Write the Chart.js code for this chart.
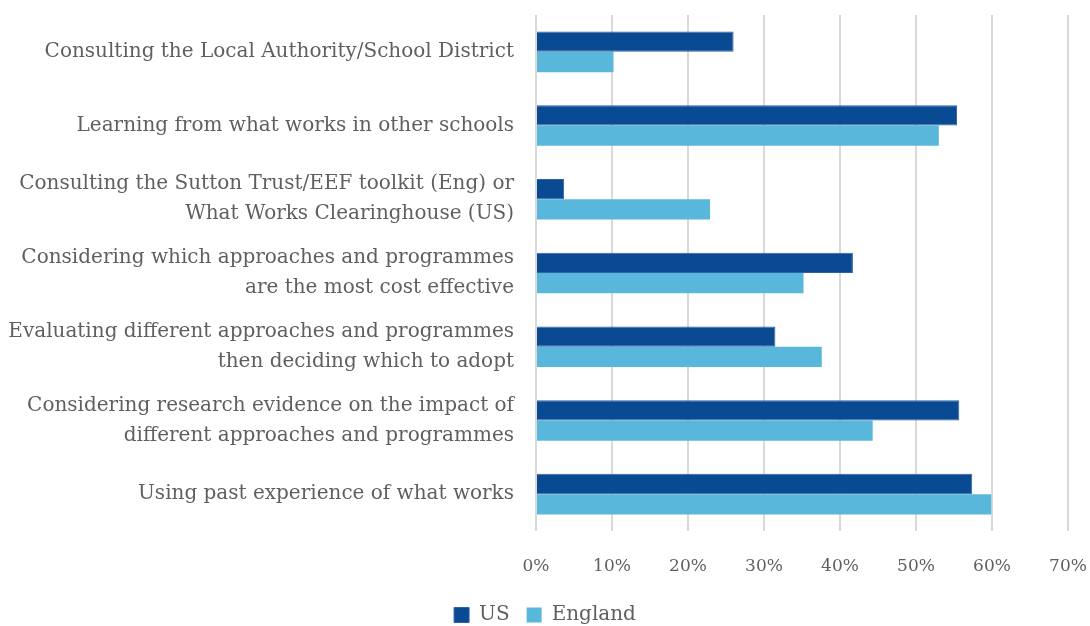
<!DOCTYPE html>
<html>
<head>
<meta charset="utf-8">
<script src="https://cdn.jsdelivr.net/npm/chart.js@4/dist/chart.umd.min.js"></script>
<style>
  html, body { margin: 0; padding: 0; background: #ffffff; }
  #wrap { width: 1090px; height: 626px; position: relative; }
</style>
</head>
<body>
<div id="wrap"><canvas id="c" width="1090" height="626"></canvas></div>
<script>
// Approaches used when deciding which programmes to adopt
const categories = [
  ["Consulting the Local Authority/School District"],
  ["Learning from what works in other schools"],
  ["Consulting the Sutton Trust/EEF toolkit (Eng) or", "What Works Clearinghouse (US)"],
  ["Considering which approaches and programmes", "are the most cost effective"],
  ["Evaluating different approaches and programmes", "then deciding which to adopt"],
  ["Considering research evidence on the impact of", "different approaches and programmes"],
  ["Using past experience of what works"]
];
const usValues = [26, 55.4, 3.7, 41.7, 31.5, 55.7, 57.4];
const englandValues = [10.2, 53.0, 22.9, 35.2, 37.6, 44.3, 59.9];
const tickValues = [0, 10, 20, 30, 40, 50, 60, 70];

const FONT = "'DejaVu Serif', serif";
const TEXT = '#5f5f5f';

new Chart(document.getElementById('c'), {
  type: 'bar',
  data: {
    labels: categories,
    datasets: [
      {
        label: 'US',
        data: usValues,
        backgroundColor: '#0a4a93',
        borderColor: '#2c62a8',
        borderWidth: 1,
        categoryPercentage: 0.55,
        barPercentage: 1
      },
      {
        label: 'England',
        data: englandValues,
        backgroundColor: '#5ab7dc',
        borderWidth: 0,
        categoryPercentage: 0.55,
        barPercentage: 1
      }
    ]
  },
  options: {
    indexAxis: 'y',
    responsive: false,
    animation: false,
    layout: { padding: { top: 0, right: 0, left: 0, bottom: -9 } },
    plugins: {
      tooltip: { enabled: false },
      legend: {
        position: 'bottom',
        labels: {
          color: TEXT,
          font: { family: FONT, size: 20 },
          boxWidth: 15,
          boxHeight: 15,
          padding: 17
        }
      }
    },
    scales: {
      x: {
        min: 0,
        max: 70,
        afterBuildTicks: (s) => { s.ticks = tickValues.map(v => ({ value: v })); },
        afterFit: (s) => {
          s.height = 57;
          s.paddingLeft = 0;
          s.paddingRight = 22;
        },
        grid: { color: '#d9d9d9', lineWidth: 2, drawTicks: false },
        border: { display: false },
        ticks: {
          color: TEXT,
          font: { family: FONT, size: 17 },
          padding: 25,
          callback: (v) => v + '%'
        }
      },
      y: {
        afterFit: (s) => {
          s.width = 536;
          s.paddingTop = 15;
          s.paddingBottom = 0;
        },
        grid: { display: false, drawTicks: false },
        border: { display: false },
        ticks: {
          color: TEXT,
          font: { family: FONT, size: 20, lineHeight: 1.5 },
          padding: 22,
          autoSkip: false
        }
      }
    }
  }
});
</script>
</body>
</html>
